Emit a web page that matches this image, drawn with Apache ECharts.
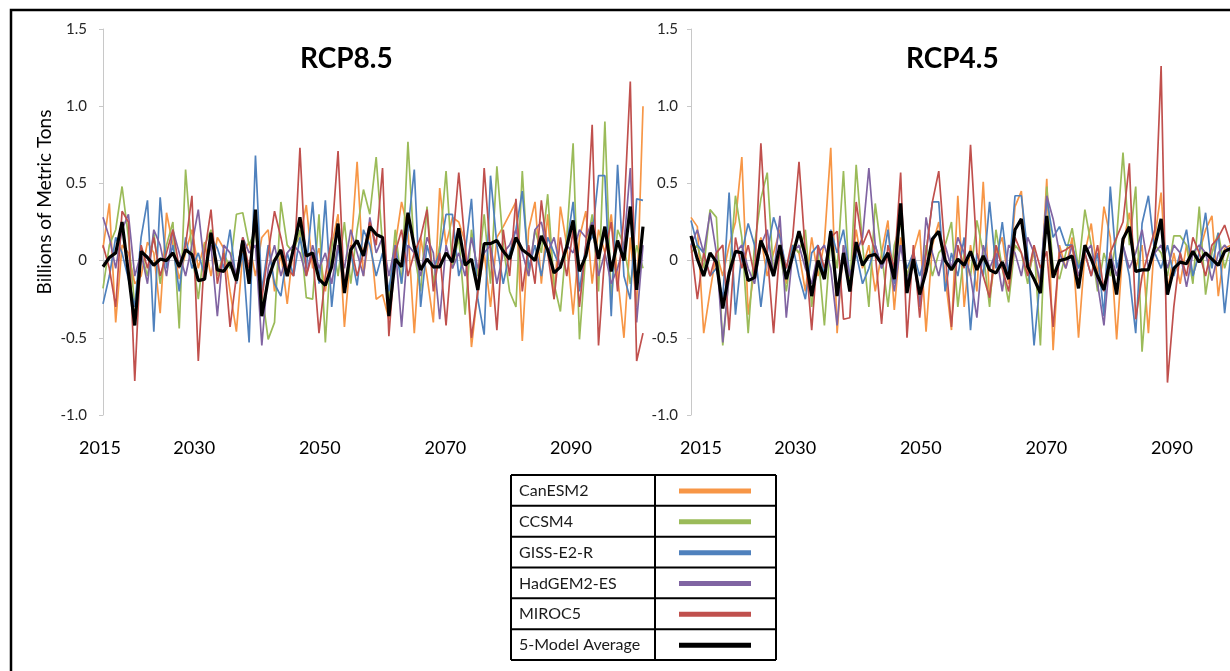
<!DOCTYPE html>
<html>
<head>
<meta charset="utf-8">
<script src="https://cdn.jsdelivr.net/npm/echarts@6/dist/echarts.min.js"></script>
<style>
  html, body { margin: 0; padding: 0; background: #fff; }
  #chart { width: 1230px; height: 671px; }
</style>
</head>
<body>
<div id="chart"></div>
<script>
// years on the category axis, labelled only at a few of them
const years = [];
for (let y = 2015; y <= 2100; y++) years.push(String(y));
const yearTicks = [2015, 2030, 2050, 2070, 2090];

const models = ["CanESM2", "CCSM4", "GISS-E2-R", "HadGEM2-ES", "MIROC5", "5-Model Average"];
const colors = ["#F79646", "#9BBB59", "#4F81BD", "#8064A2", "#C0504D", "#000000"];

// RCP8.5 (billions of metric tons)
const canL = [
  0.08, 0.37, -0.40, 0.10, 0.05, -0.15, -0.10, 0.12, 0.05, -0.34,
  0.31, 0.10, -0.12, 0.05, 0.20, -0.05, 0.12, -0.10, 0.15, 0.08,
  -0.20, -0.46, 0.05, 0.12, -0.10, 0.15, 0.20, -0.20, 0.05, -0.28,
  0.10, 0.15, 0.36, -0.05, 0.08, -0.20, 0.10, 0.30, -0.43, 0.05,
  0.64, -0.10, 0.20, -0.25, -0.22, -0.38, 0.10, 0.38, 0.20, -0.47,
  0.15, -0.10, -0.40, 0.47, 0.10, 0.28, 0.25, 0.12, -0.56, -0.20,
  0.05, -0.30, 0.15, 0.22, 0.30, 0.38, -0.52, 0.20, 0.38, -0.15,
  0.30, -0.25, 0.35, 0.10, -0.35, 0.15, 0.32, -0.15, 0.20, 0.05,
  0.30, -0.10, -0.50, 0.15, -0.30, 1.00
];
const cccL = [
  -0.18, 0.10, 0.20, 0.48, 0.15, -0.30, 0.05, -0.10, 0.18, -0.15,
  0.10, 0.25, -0.44, 0.59, 0.05, -0.25, 0.10, 0.20, -0.10, 0.05,
  -0.05, 0.30, 0.31, 0.10, 0.20, -0.20, -0.51, -0.40, 0.38, 0.10,
  0.05, 0.20, -0.24, -0.25, 0.30, -0.53, 0.15, -0.10, 0.25, -0.15,
  0.20, 0.46, 0.30, 0.67, 0.10, -0.25, 0.20, -0.15, 0.77, 0.05,
  -0.20, 0.35, -0.15, 0.10, 0.58, -0.05, 0.15, -0.35, 0.20, -0.10,
  0.30, -0.15, 0.61, 0.10, -0.20, -0.30, 0.58, -0.10, 0.20, 0.05,
  0.43, -0.15, -0.33, 0.15, 0.76, -0.51, 0.05, 0.30, -0.20, 0.90,
  -0.25, 0.20, 0.10, -0.15, 0.10, -0.05
];
const gissL = [
  -0.28, -0.10, 0.15, 0.05, -0.12, -0.30, 0.15, 0.39, -0.46, 0.41,
  -0.05, 0.10, -0.20, 0.15, -0.05, 0.05, -0.10, 0.15, 0.08, -0.05,
  0.20, -0.15, 0.05, -0.53, 0.68, -0.20, 0.10, -0.15, -0.23, 0.05,
  -0.10, 0.15, -0.05, 0.38, -0.15, 0.39, -0.30, 0.10, -0.20, 0.05,
  -0.16, 0.20, 0.10, -0.10, 0.05, -0.20, 0.10, -0.15, 0.20, 0.59,
  -0.30, 0.10, -0.05, 0.05, 0.30, 0.30, -0.10, 0.05, 0.40, -0.25,
  -0.48, 0.55, 0.10, -0.15, 0.05, 0.20, 0.45, -0.05, 0.10, -0.10,
  0.15, 0.05, -0.05, 0.10, 0.38, -0.20, 0.10, 0.15, 0.55, 0.55,
  -0.36, 0.62, -0.10, -0.25, 0.40, 0.39
];
const hadL = [
  0.28, 0.15, -0.05, 0.20, 0.30, -0.10, 0.05, -0.15, 0.20, 0.10,
  -0.10, 0.20, 0.05, -0.10, 0.10, 0.33, -0.05, 0.10, -0.36, 0.10,
  0.05, -0.10, 0.15, 0.05, 0.10, -0.55, -0.05, 0.10, -0.10, 0.05,
  0.10, 0.05, -0.10, 0.10, -0.05, 0.05, -0.15, 0.10, -0.05, 0.20,
  0.05, -0.10, 0.28, 0.05, 0.15, -0.10, 0.10, -0.43, 0.10, 0.05,
  -0.10, 0.15, 0.05, -0.38, 0.10, -0.05, 0.05, -0.10, 0.15, -0.05,
  0.05, 0.10, -0.15, 0.05, 0.10, 0.20, 0.05, -0.10, 0.20, 0.25,
  0.05, 0.15, -0.05, 0.10, 0.05, 0.20, 0.15, 0.25, -0.10, 0.05,
  -0.15, -0.05, 0.10, 0.60, -0.40, 0.10
];
const mirL = [
  0.10, -0.05, -0.30, 0.32, 0.25, -0.78, 0.10, -0.05, 0.15, -0.10,
  0.05, 0.20, -0.05, 0.10, 0.42, -0.65, 0.05, 0.33, -0.15, 0.05,
  -0.43, -0.10, 0.15, -0.05, 0.25, -0.25, 0.05, 0.32, 0.15, -0.05,
  -0.10, 0.73, -0.10, 0.05, -0.47, -0.10, 0.15, 0.71, -0.20, 0.10,
  -0.10, 0.05, 0.25, 0.10, 0.60, -0.49, 0.05, 0.20, -0.10, 0.05,
  0.15, 0.33, -0.20, 0.05, -0.42, 0.10, 0.57, 0.10, -0.50, -0.20,
  0.60, 0.05, -0.45, 0.20, -0.10, 0.40, -0.20, 0.10, -0.15, 0.39,
  0.05, -0.25, 0.15, -0.10, 0.20, -0.30, 0.10, 0.88, -0.55, 0.05,
  0.25, -0.20, 0.30, 1.16, -0.65, -0.47
];
const avgL = [
  -0.04, 0.02, 0.05, 0.25, -0.08, -0.42, 0.06, 0.02, -0.03, 0.01,
  0.00, 0.05, -0.04, 0.07, 0.04, -0.13, -0.12, 0.18, -0.06, -0.07,
  -0.01, -0.13, 0.13, -0.15, 0.33, -0.36, -0.12, 0.00, 0.07, -0.10,
  0.08, 0.28, 0.03, 0.05, -0.12, -0.16, -0.04, 0.24, -0.21, 0.07,
  0.13, 0.03, 0.22, 0.17, 0.15, -0.36, 0.01, -0.04, 0.31, 0.09,
  -0.06, 0.01, -0.04, -0.04, 0.05, -0.01, 0.21, -0.03, 0.01, -0.19,
  0.11, 0.11, 0.13, 0.06, 0.01, 0.15, 0.07, 0.04, 0.00, 0.16,
  0.07, -0.08, -0.04, 0.09, 0.26, -0.07, 0.03, 0.23, 0.01, 0.22,
  -0.07, 0.13, 0.00, 0.35, -0.19, 0.22
];

// RCP4.5
const canR = [
  0.28, 0.22, -0.47, -0.20, 0.05, -0.10, 0.10, 0.25, 0.67, -0.35,
  -0.05, 0.15, -0.10, 0.05, 0.20, -0.15, 0.10, 0.05, -0.20, 0.15,
  -0.10, 0.12, 0.73, -0.47, 0.10, -0.15, 0.20, -0.05, 0.10, -0.20,
  0.05, 0.26, -0.32, 0.15, -0.10, 0.05, 0.20, -0.46, 0.10, 0.25,
  -0.10, -0.45, 0.42, -0.30, 0.10, -0.20, 0.51, -0.25, 0.05, 0.15,
  -0.15, 0.35, 0.45, -0.10, 0.05, -0.20, 0.53, -0.58, 0.10, -0.05,
  0.15, -0.50, 0.05, 0.24, -0.10, 0.35, 0.15, -0.51, 0.10, 0.31,
  -0.05, 0.10, -0.47, 0.15, 0.44, -0.20, 0.05, -0.15, 0.10, -0.10,
  0.05, 0.20, 0.29, -0.23, 0.08, 0.10
];
const cccR = [
  0.05, 0.10, -0.05, 0.33, 0.28, -0.55, -0.10, 0.42, 0.15, -0.47,
  0.10, 0.40, 0.57, -0.10, 0.05, -0.20, 0.10, 0.05, 0.20, -0.30,
  0.05, -0.42, 0.15, -0.05, 0.58, -0.20, 0.62, 0.10, -0.30, 0.37,
  0.05, -0.30, 0.10, 0.25, -0.10, 0.05, -0.25, 0.10, -0.10, 0.05,
  0.10, 0.25, -0.30, 0.05, -0.10, 0.26, 0.05, -0.30, 0.20, -0.05,
  -0.27, 0.10, 0.05, -0.15, 0.10, -0.55, 0.48, -0.05, -0.12, 0.05,
  0.21, -0.05, 0.33, 0.10, -0.20, 0.05, -0.10, 0.15, 0.70, 0.10,
  0.48, -0.59, -0.05, 0.10, 0.05, -0.10, 0.16, 0.16, 0.10, -0.15,
  0.35, -0.22, 0.05, 0.18, -0.05, 0.10
];
const gissR = [
  0.26, 0.10, 0.05, -0.10, -0.05, -0.25, 0.44, -0.35, 0.05, 0.24,
  0.10, -0.30, 0.05, 0.28, 0.15, -0.05, 0.10, -0.10, -0.25, 0.05,
  0.10, -0.10, 0.20, 0.05, 0.20, -0.10, 0.05, -0.15, -0.05, 0.10,
  -0.05, 0.20, -0.15, 0.10, -0.05, 0.05, -0.10, 0.05, 0.38, 0.38,
  -0.20, 0.05, -0.10, 0.15, -0.45, 0.05, -0.10, 0.38, -0.05, 0.25,
  -0.10, 0.42, 0.42, 0.05, -0.55, -0.10, 0.40, 0.15, 0.22, 0.10,
  0.10, -0.05, 0.05, -0.10, 0.05, -0.36, 0.48, -0.05, 0.10, -0.10,
  -0.47, 0.24, 0.42, 0.05, -0.05, 0.10, -0.10, 0.05, 0.20, -0.10,
  0.05, 0.31, -0.05, 0.18, -0.34, 0.05
];
const hadR = [
  0.10, 0.20, 0.05, 0.31, 0.05, -0.53, -0.10, 0.05, 0.10, -0.05,
  -0.15, 0.10, 0.20, -0.10, 0.29, -0.37, 0.05, 0.10, -0.05, -0.15,
  0.05, 0.10, -0.05, -0.42, 0.10, -0.10, 0.05, 0.15, 0.60, 0.10,
  -0.05, 0.05, -0.20, 0.10, -0.15, 0.05, -0.30, 0.28, 0.05, -0.10,
  0.10, -0.05, 0.15, 0.05, -0.10, -0.37, 0.10, -0.05, 0.05, -0.20,
  0.10, 0.05, -0.10, 0.15, 0.05, -0.15, 0.42, 0.27, 0.05, -0.05,
  0.10, -0.10, 0.05, 0.10, -0.15, -0.42, 0.05, -0.10, 0.10, -0.05,
  0.05, 0.20, -0.05, 0.05, 0.10, -0.05, 0.10, 0.05, -0.17, 0.05,
  0.10, 0.05, -0.13, 0.05, 0.10, 0.05
];
const mirR = [
  0.10, -0.25, 0.05, -0.10, 0.05, 0.10, -0.45, 0.15, -0.05, 0.10,
  -0.10, 0.76, 0.05, -0.47, 0.10, -0.05, 0.15, 0.64, 0.05, -0.45,
  0.10, -0.05, 0.15, 0.19, -0.38, -0.37, 0.38, 0.10, 0.20, 0.05,
  -0.41, 0.10, -0.05, 0.57, -0.50, 0.10, -0.37, 0.05, 0.38, 0.58,
  0.05, -0.43, 0.10, -0.05, 0.75, 0.05, -0.10, -0.24, 0.10, -0.05,
  -0.20, 0.15, 0.05, -0.10, 0.10, -0.05, 0.06, -0.43, 0.05, 0.07,
  0.10, -0.15, 0.05, -0.10, 0.10, -0.20, 0.05, 0.15, 0.25, 0.63,
  -0.38, -0.10, 0.05, 0.20, 1.26, -0.79, -0.30, 0.05, -0.10, 0.15,
  0.05, -0.10, 0.10, 0.15, 0.23, 0.10
];
const avgR = [
  0.16, 0.01, -0.10, 0.05, -0.01, -0.31, -0.08, 0.06, 0.05, -0.13,
  -0.11, 0.13, 0.03, -0.10, 0.10, -0.12, 0.03, 0.19, 0.03, -0.23,
  0.00, -0.12, 0.19, -0.23, 0.05, -0.20, 0.12, -0.03, 0.03, 0.04,
  -0.02, 0.05, -0.12, 0.37, -0.21, 0.01, -0.22, -0.07, 0.14, 0.19,
  0.00, -0.06, 0.01, -0.03, 0.06, -0.06, 0.03, -0.06, -0.08, -0.01,
  -0.12, 0.20, 0.27, -0.04, -0.12, -0.21, 0.29, -0.11, 0.00, 0.01,
  0.03, -0.18, 0.10, 0.01, -0.10, -0.19, 0.01, -0.22, 0.14, 0.22,
  -0.07, -0.06, -0.06, 0.09, 0.27, -0.22, -0.05, -0.01, -0.02, 0.06,
  -0.01, 0.05, 0.01, -0.03, 0.06, 0.08
];

const rcp85 = [canL, cccL, gissL, hadL, mirL, avgL];
const rcp45 = [canR, cccR, gissR, hadR, mirR, avgR];

const font = "Lato, 'Open Sans', sans-serif";

const panels = [
  { title: "RCP8.5", titleLeft: 300, left: 103, labelLeft: 100, yMargin: 16, data: rcp85 },
  { title: "RCP4.5", titleLeft: 906, left: 691, labelLeft: 701, yMargin: 13, data: rcp45 },
];

const grid = [];
const xAxis = [];
const yAxis = [];
const series = [];

panels.forEach((p, k) => {
  const g = k * 2;
  // plot area
  grid.push({ left: p.left, top: 29, width: 540, height: 386, outerBoundsMode: "none" });
  // strip that only carries the year labels
  grid.push({ left: p.labelLeft, top: 414, width: 471, height: 1, outerBoundsMode: "none" });

  xAxis.push({
    type: "category",
    gridIndex: g,
    data: years,
    boundaryGap: false,
    axisLine: { onZero: true, lineStyle: { color: "#c4c4cc", width: 1 } },
    axisTick: { show: false },
    axisLabel: { show: false },
    splitLine: { show: false },
  });
  xAxis.push({
    type: "value",
    gridIndex: g + 1,
    min: 2015,
    max: 2090,
    interval: 5,
    axisLine: { show: false },
    axisTick: { show: false },
    splitLine: { show: false },
    axisLabel: {
      margin: 24,
      fontFamily: font,
      fontSize: 18,
      color: "#000",
      formatter: (v) => (yearTicks.includes(v) ? String(v) : ""),
    },
  });

  yAxis.push({
    type: "value",
    gridIndex: g,
    min: -1,
    max: 1.5,
    interval: 0.5,
    axisLine: { show: true, lineStyle: { color: "#c8c8c8" } },
    axisTick: { show: true, length: 4, lineStyle: { color: "#c8c8c8" } },
    splitLine: { show: false },
    axisLabel: {
      margin: p.yMargin,
      fontFamily: font,
      fontSize: 15,
      color: "#262626",
      formatter: (v) => (v === 0 ? "0" : v.toFixed(1)),
    },
  });
  yAxis.push({ type: "value", gridIndex: g + 1, show: false });

  models.forEach((name, i) => {
    const isAvg = i === models.length - 1;
    series.push({
      type: "line",
      name,
      xAxisIndex: g,
      yAxisIndex: g,
      data: p.data[i],
      symbol: "none",
      color: colors[i],
      lineStyle: { width: isAvg ? 3.2 : 1.7, color: colors[i] },
      z: isAvg ? 5 : 2,
      emphasis: { disabled: true },
    });
  });
});

// legend sits in a bordered two-column table
const tableLeft = 511;
const tableMid = 655;
const tableRight = 776;
const tableTop = 475;
const rowH = 30.83;

const tableLines = [];
for (let r = 0; r <= models.length; r++) {
  const y = tableTop + r * rowH;
  tableLines.push({ type: "line", shape: { x1: tableLeft, y1: y, x2: tableRight, y2: y }, style: { stroke: "#000", lineWidth: 2 } });
}
[tableLeft, tableMid, tableRight].forEach((x) => {
  tableLines.push({ type: "line", shape: { x1: x, y1: tableTop, x2: x, y2: tableTop + models.length * rowH }, style: { stroke: "#000", lineWidth: 2 } });
});

const option = {
  animation: false,
  backgroundColor: "#fff",
  title: panels.map((p) => ({
    text: p.title,
    left: p.titleLeft,
    top: 45,
    padding: 0,
    textStyle: { fontFamily: font, fontSize: 28, fontWeight: "bold", color: "#000" },
  })),
  legend: [
    {
      // names column
      data: models,
      orient: "vertical",
      left: tableLeft + 3,
      top: tableTop + 6,
      padding: 0,
      itemGap: rowH - 20,
      itemWidth: 0,
      itemHeight: 20,
      icon: "rect",
      itemStyle: { opacity: 0 },
      selectedMode: false,
      textStyle: { fontFamily: font, fontSize: 16, lineHeight: 20, color: "#1a1a1a" },
    },
    {
      // line samples column
      data: models,
      orient: "vertical",
      left: 679,
      top: tableTop + 6,
      padding: 0,
      itemGap: rowH - 20,
      itemWidth: 72,
      itemHeight: 5,
      icon: "rect",
      selectedMode: false,
      formatter: () => " ",
      textStyle: { fontFamily: font, fontSize: 16, lineHeight: 20, color: "transparent" },
    },
  ],
  grid,
  xAxis,
  yAxis,
  series,
  graphic: [
    {
      type: "polyline",
      shape: { points: [[11, 671], [11, 10], [1230, 10]] },
      style: { stroke: "#000", lineWidth: 2.5, fill: null },
    },
    {
      type: "text",
      x: 45,
      y: 202,
      rotation: Math.PI / 2,
      style: {
        text: "Billions of Metric Tons",
        font: "19px " + font,
        fill: "#000",
        align: "center",
        verticalAlign: "middle",
      },
    },
    ...tableLines,
  ],
};

const chart = echarts.init(document.getElementById("chart"));
chart.setOption(option);
</script>
</body>
</html>
